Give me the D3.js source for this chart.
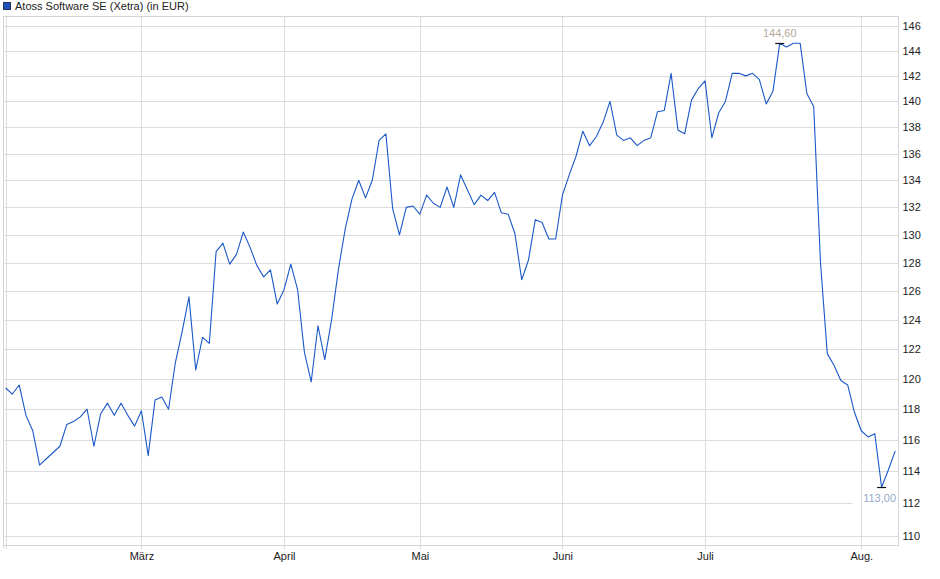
<!doctype html>
<html>
<head>
<meta charset="utf-8" />
<title>Atoss Software SE (Xetra)</title>
<script src="https://cdn.jsdelivr.net/npm/d3@7/dist/d3.min.js"></script>
<style>
	body { margin: 0; background: #fff; }
	svg { display: block; font-family: "Liberation Sans", Arial, sans-serif; }
	.grid { stroke: #dcdcdc; stroke-width: 1; shape-rendering: crispEdges; }
	.frame { stroke: #d4d4d4; stroke-width: 1; fill: none; shape-rendering: crispEdges; }
	.tick text { fill: #222; font-size: 11px; }
</style>
</head>
<body>
<div id="app"></div>
<script>
const title = 'Atoss Software SE (Xetra) (in EUR)';

// daily closes, first trading day in Feb to early Aug
const closes = [
	119.4, 119.0, 119.6, 117.6, 116.6, 114.4, 114.8, 115.2, 115.6, 117.0,
	117.2, 117.5, 118.0, 115.6, 117.7, 118.4, 117.6, 118.4, 117.6, 116.9,
	117.9, 115.0, 118.6, 118.8, 118.0, 121.1, 123.2, 125.6, 120.6, 122.8,
	122.4, 128.8, 129.4, 127.9, 128.6, 130.2, 129.1, 127.8, 127.0, 127.5,
	125.1, 126.1, 127.9, 126.1, 121.8, 119.8, 123.6, 121.3, 124.0, 127.5,
	130.4, 132.6, 134.0, 132.7, 134.0, 137.0, 137.5, 131.9, 130.0, 132.0,
	132.1, 131.5, 132.9, 132.3, 132.0, 133.5, 132.0, 134.4, 133.3, 132.2,
	132.9, 132.5, 133.1, 131.6, 131.5, 130.1, 126.8, 128.2, 131.1, 130.9,
	129.7, 129.7, 132.9, 134.4, 135.8, 137.7, 136.6, 137.3, 138.4, 140.0,
	137.4, 137.0, 137.2, 136.6, 137.0, 137.2, 139.2, 139.3, 142.2, 137.8,
	137.5, 140.1, 141.0, 141.6, 137.2, 139.1, 140.0, 142.2, 142.2, 142.0,
	142.2, 141.7, 139.8, 140.8, 144.6, 144.3, 144.6, 144.6, 140.6, 139.6,
	128.0, 121.7, 120.9, 119.9, 119.6, 117.8, 116.6, 116.2, 116.4, 113.0,
	114.1, 115.3
];

// first trading day of each month (index into closes)
const monthIdx = [20, 41, 61, 82, 103, 126];
const monthLabels = ['März', 'April', 'Mai', 'Juni', 'Juli', 'Aug.'];

const yTicks = d3.range(110, 147, 2);

const W = 940, H = 579;
const plot = { left: 3.5, right: 898.5, top: 16.5, bottom: 545.5 };

const svg = d3.select('#app').append('svg').attr('width', W).attr('height', H);

const x = d3.scaleLinear().domain([0, closes.length - 1]).range([5.6, 895.2]);
const y = d3.scaleLog().domain([109.4, 146.8]).range([545.5, 16]);

const hi = d3.maxIndex(closes);
const lo = d3.minIndex(closes);
const fmt = v => d3.format('.2f')(v).replace('.', ',');

// horizontal grid
svg.append('g').selectAll('line')
	.data(yTicks)
	.join('line')
	.attr('class', 'grid')
	.attr('x1', plot.left).attr('x2', plot.right)
	.attr('y1', d => Math.round(y(d)) + 0.5)
	.attr('y2', d => Math.round(y(d)) + 0.5);

// low label background only masks the horizontal grid
svg.append('rect')
	.attr('x', x(lo) - 29).attr('y', y(closes[lo]) + 4)
	.attr('width', 45).attr('height', 14)
	.attr('fill', '#fff');

// vertical month grid, a bit past the bottom edge
svg.append('g').selectAll('line')
	.data(monthIdx.concat([0]))
	.join('line')
	.attr('class', 'grid')
	.attr('x1', d => Math.round(x(d)) + 0.5)
	.attr('x2', d => Math.round(x(d)) + 0.5)
	.attr('y1', plot.top).attr('y2', plot.bottom + 3);

svg.append('rect').attr('class', 'frame')
	.attr('x', plot.left).attr('y', plot.top)
	.attr('width', plot.right - plot.left).attr('height', plot.bottom - plot.top);
svg.append('line').attr('class', 'frame')
	.attr('x1', plot.left).attr('x2', plot.left)
	.attr('y1', plot.bottom).attr('y2', plot.bottom + 2);

// right value axis
const yAxis = d3.axisRight(y).tickValues(yTicks).tickSize(0).tickPadding(4).tickFormat(d3.format('d'));
svg.append('g')
	.attr('transform', `translate(${plot.right},0)`)
	.call(yAxis)
	.call(g => g.select('.domain').remove());

// month axis
const xAxis = d3.axisBottom(x).tickValues(monthIdx).tickSize(0).tickPadding(7)
	.tickFormat((d, i) => monthLabels[i]);
svg.append('g')
	.attr('transform', `translate(0,${plot.bottom})`)
	.call(xAxis)
	.call(g => g.select('.domain').remove());

// price line
const line = d3.line().x((d, i) => x(i)).y(d => y(d));
svg.append('path')
	.datum(closes)
	.attr('fill', 'none')
	.attr('stroke', '#1a58c8')
	.attr('stroke-width', 1.1)
	.attr('stroke-linejoin', 'round')
	.attr('d', line);

// high / low markers
function marker(i) {
	svg.append('line')
		.attr('x1', x(i) - 4.5).attr('x2', x(i) + 4.5)
		.attr('y1', Math.round(y(closes[i])) + 0.5)
		.attr('y2', Math.round(y(closes[i])) + 0.5)
		.attr('stroke', '#111').attr('stroke-width', 1.2);
}
marker(hi);
marker(lo);

svg.append('text')
	.attr('x', x(hi)).attr('y', y(closes[hi]) - 6)
	.attr('text-anchor', 'middle')
	.attr('font-size', 11)
	.attr('fill', '#b4a898')
	.text(fmt(closes[hi]));

svg.append('text')
	.attr('x', x(lo) - 2).attr('y', y(closes[lo]) + 15)
	.attr('text-anchor', 'middle')
	.attr('font-size', 11)
	.attr('fill', '#93a9c9')
	.text(fmt(closes[lo]));

// legend
svg.append('rect')
	.attr('x', 3.5).attr('y', 2.5).attr('width', 7).attr('height', 7)
	.attr('fill', '#1f52b8').attr('stroke', '#223355');
svg.append('text')
	.attr('x', 15).attr('y', 10)
	.attr('font-size', 11)
	.attr('fill', '#222')
	.text(title);
</script>
</body>
</html>
